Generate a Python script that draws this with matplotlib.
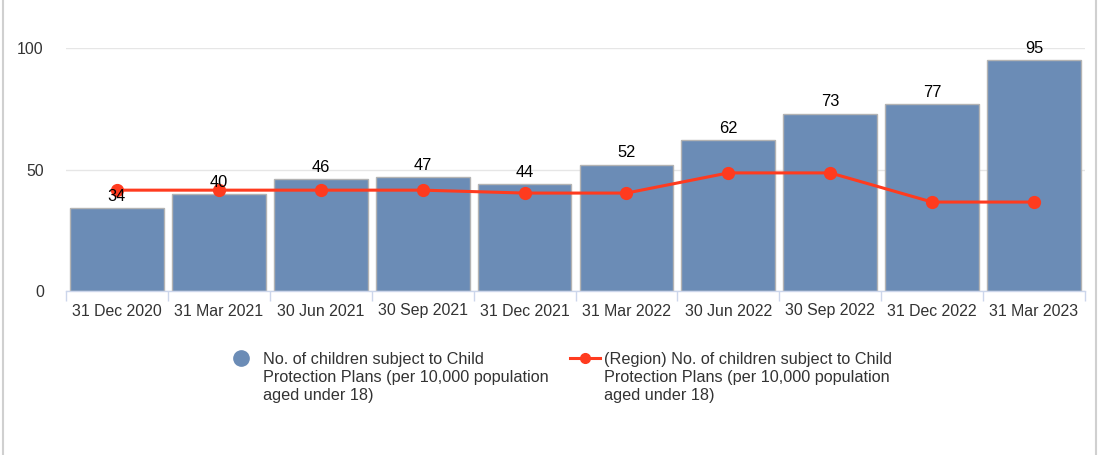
import matplotlib
matplotlib.use("Agg")
import matplotlib.pyplot as plt
from matplotlib.lines import Line2D
import numpy as np

plt.rcParams['font.family'] = ['Liberation Sans', 'DejaVu Sans']

categories = ["31 Dec 2020", "31 Mar 2021", "30 Jun 2021", "30 Sep 2021", "31 Dec 2021",
              "31 Mar 2022", "30 Jun 2022", "30 Sep 2022", "31 Dec 2022", "31 Mar 2023"]
local_values = [34, 40, 46, 47, 44, 52, 62, 73, 77, 95]
region_values = [41.5, 41.5, 41.5, 41.5, 40.3, 40.3, 48.6, 48.6, 36.6, 36.6]
y_ticks = [0, 50, 100]
label_local = "No. of children subject to Child\nProtection Plans (per 10,000 population\naged under 18)"
label_region = "(Region) No. of children subject to Child\nProtection Plans (per 10,000 population\naged under 18)"

W, H = 1098, 455
fig = plt.figure(figsize=(W / 100, H / 100), dpi=100)
ax = fig.add_axes([66 / W, 1 - 291 / H, (1085 - 66) / W, (291 - 48) / H])

x = np.arange(len(categories))
bar_color = '#6b8cb6'
line_color = '#ff3b1f'

ax.bar(x, local_values, width=0.92, color=bar_color, edgecolor='#b3b3b3', linewidth=1, zorder=2)
for xi, v in zip(x, local_values):
    ax.annotate(str(v), (xi, v), xytext=(0, 3), textcoords='offset points',
                ha='center', va='bottom', fontsize=11.8, color='black', zorder=5,
                annotation_clip=False)

ax.plot(x, region_values, color=line_color, linewidth=2.2, marker='o', markersize=8.5, zorder=4)

ax.set_xlim(-0.5, len(categories) - 0.5)
ax.set_ylim(0, 100)
ax.set_yticks(y_ticks)
ax.set_yticklabels([str(t) for t in y_ticks])
ax.yaxis.grid(True, color='#e6e6e6', linewidth=1, zorder=0)
ax.set_axisbelow(True)
for s in ['top', 'right', 'left']:
    ax.spines[s].set_visible(False)
ax.spines['bottom'].set_color('#ccd6eb')
ax.spines['bottom'].set_linewidth(1)

ax.set_xticks(x)
ax.set_xticklabels(categories)
ax.set_xticks(np.arange(len(categories) + 1) - 0.5, minor=True)
ax.tick_params(axis='x', which='major', length=0, pad=9, labelsize=11.4, labelcolor='#333333')
ax.tick_params(axis='x', which='minor', length=7, color='#ccd6eb', width=1)
ax.tick_params(axis='y', length=0, pad=16, labelsize=11.4, labelcolor='#333333')

# Legend (drawn manually for exact layout)
leg_fs = 11.7
line_h = 18 / H
y0 = 1 - 358 / H
fig.add_artist(Line2D([241 / W], [y0], linestyle='none', marker='o', markersize=11,
                      color=bar_color, transform=fig.transFigure))
fig.add_artist(Line2D([570 / W, 600 / W], [y0, y0], color=line_color, linewidth=2.2,
                      transform=fig.transFigure))
fig.add_artist(Line2D([585 / W], [y0], linestyle='none', marker='o', markersize=7,
                      color=line_color, transform=fig.transFigure))
for tx, lab in [(263 / W, label_local), (604 / W, label_region)]:
    for i, line in enumerate(lab.split('\n')):
        fig.text(tx, y0 - i * line_h, line, ha='left', va='center_baseline',
                 fontsize=leg_fs, color='#333333')

fig.add_artist(Line2D([3 / W, 3 / W], [0, 1], color='#d0d0d0', linewidth=1.5, transform=fig.transFigure))
fig.add_artist(Line2D([1096 / W, 1096 / W], [0, 1], color='#d0d0d0', linewidth=1.5, transform=fig.transFigure))

fig.savefig('out.png', dpi=100, facecolor='white')
